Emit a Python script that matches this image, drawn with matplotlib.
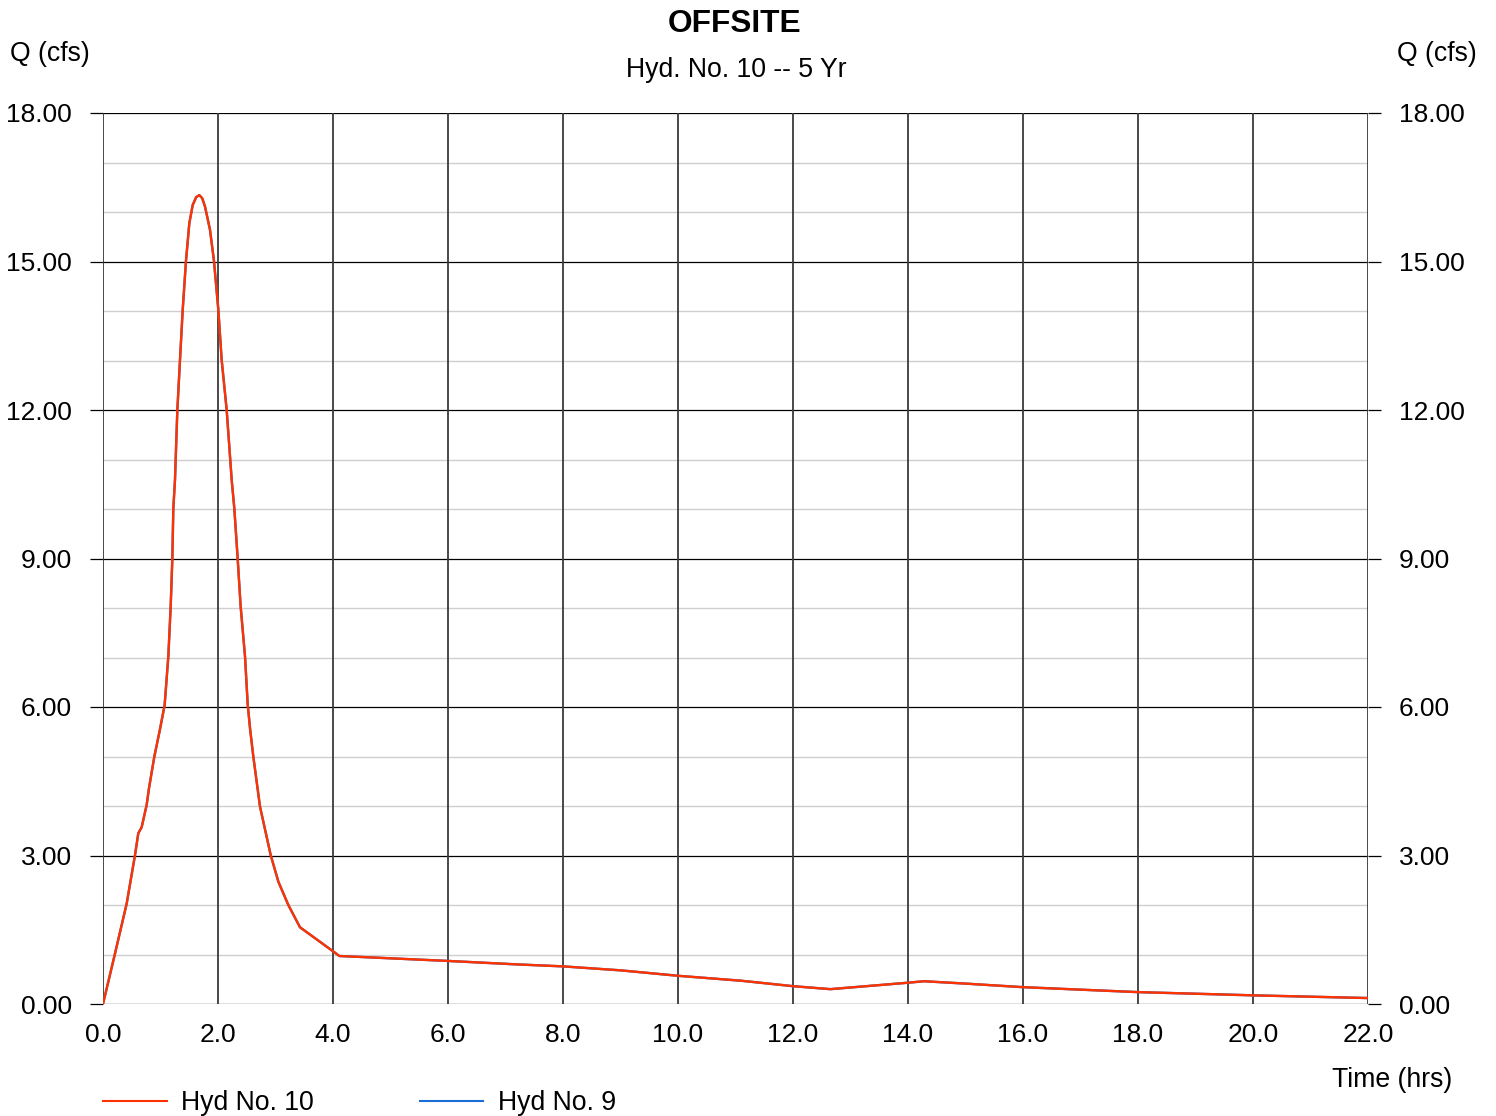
import matplotlib
matplotlib.use("Agg")
import matplotlib.pyplot as plt
from matplotlib.lines import Line2D

plt.rcParams['font.family'] = ['Liberation Sans', 'DejaVu Sans']

# Hydrograph ordinates: time (hrs) and discharge (cfs)
time_hrs = [0.0, 0.209, 0.412, 0.557, 0.614, 0.672, 0.759, 0.80, 0.893, 0.991,
            1.072, 1.136, 1.177, 1.206, 1.223, 1.252, 1.293, 1.339, 1.386, 1.443,
            1.501, 1.56, 1.62, 1.675, 1.725, 1.774, 1.861, 1.93, 2.006, 2.064,
            2.151, 2.238, 2.284, 2.342, 2.394, 2.47, 2.516, 2.557, 2.614, 2.73,
            2.916, 3.05, 3.223, 3.426, 3.687, 4.006, 4.11, 6.0, 7.2, 8.0,
            9.0, 10.0, 11.1, 12.0, 12.65, 14.0, 14.28, 15.03, 16.0, 18.0,
            20.0, 22.0]
hyd10_cfs = [0.0, 1.02, 2.03, 3.01, 3.45, 3.57, 4.02, 4.36, 5.00, 5.55,
             6.04, 7.02, 8.03, 9.00, 10.01, 10.59, 12.00, 13.01, 14.02, 15.01,
             15.77, 16.14, 16.30, 16.34, 16.28, 16.11, 15.64, 15.01, 14.02, 13.01,
             12.00, 10.59, 10.01, 9.00, 8.03, 7.02, 6.06, 5.57, 5.00, 3.99,
             3.01, 2.47, 2.00, 1.55, 1.33, 1.06, 0.97, 0.87, 0.80, 0.76,
             0.68, 0.57, 0.47, 0.36, 0.30, 0.43, 0.46, 0.41, 0.34, 0.24,
             0.175, 0.12]
# Inflow hydrograph (routed through unchanged)
hyd9_cfs = list(hyd10_cfs)

x_ticks = [0, 2, 4, 6, 8, 10, 12, 14, 16, 18, 20, 22]
y_major = [0, 3, 6, 9, 12, 15, 18]
y_minor = [1, 2, 4, 5, 7, 8, 10, 11, 13, 14, 16, 17]

RED = '#ff3300'
BLUE = '#1a6fd6'
FS = 19.2
FS_TICK = 19.0

fig = plt.figure(figsize=(14.96, 11.16), dpi=100)
ax = fig.add_axes([103/1496, 1 - 1004/1116, (1368-103)/1496, (1004-113)/1116])

ax.set_xlim(0, 22)
ax.set_ylim(0, 18)

# grid
for y in y_minor:
    ax.axhline(y, color='#cfcfcf', lw=1.0, zorder=1)
for y in y_major:
    ax.axhline(y, color='black', lw=0.9, zorder=2)
for x in x_ticks:
    ax.axvline(x, color='#3a3a3a', lw=1.3, zorder=2)

for s in ax.spines.values():
    s.set_visible(False)

ax.plot(time_hrs, hyd9_cfs, color=BLUE, lw=1.7, zorder=3)
ax.plot(time_hrs, hyd10_cfs, color=RED, lw=1.7, zorder=4)

ax.set_xticks(x_ticks)
ax.set_xticklabels([f"{v:.1f}" for v in x_ticks], fontsize=FS_TICK)
ax.set_yticks(y_major)
ax.set_yticklabels([f"{v:.2f}" for v in y_major], fontsize=FS_TICK)
ax.tick_params(axis='x', length=0, pad=14)
ax.tick_params(axis='y', which='both', left=True, right=True, labelleft=True,
               labelright=True, length=9.4, width=0.9, color='black', pad=13)

def px(x, y):
    return x / 1496, 1 - y / 1116

fig.text(*px(735, 24), "OFFSITE", ha='center', va='center',
         fontsize=22.8, fontweight='bold')
fig.text(*px(736, 70), "Hyd. No. 10 -- 5 Yr", ha='center', va='center',
         fontsize=FS)
fig.text(*px(10, 54), "Q (cfs)", ha='left', va='center', fontsize=FS)
fig.text(*px(1477, 54), "Q (cfs)", ha='right', va='center', fontsize=FS)
fig.text(*px(1452, 1080), "Time (hrs)", ha='right', va='center', fontsize=FS)

# legend
ly = 1 - 1101 / 1116
fig.add_artist(Line2D([103/1496, 167/1496], [ly, ly], color=RED, lw=1.5))
fig.text(181/1496, 1 - 1103/1116, "Hyd No. 10", ha='left', va='center', fontsize=FS)
fig.add_artist(Line2D([420/1496, 483/1496], [ly, ly], color=BLUE, lw=1.5))
fig.text(498/1496, 1 - 1103/1116, "Hyd No. 9", ha='left', va='center', fontsize=FS)

fig.savefig("out.png", dpi=100, facecolor='white')
